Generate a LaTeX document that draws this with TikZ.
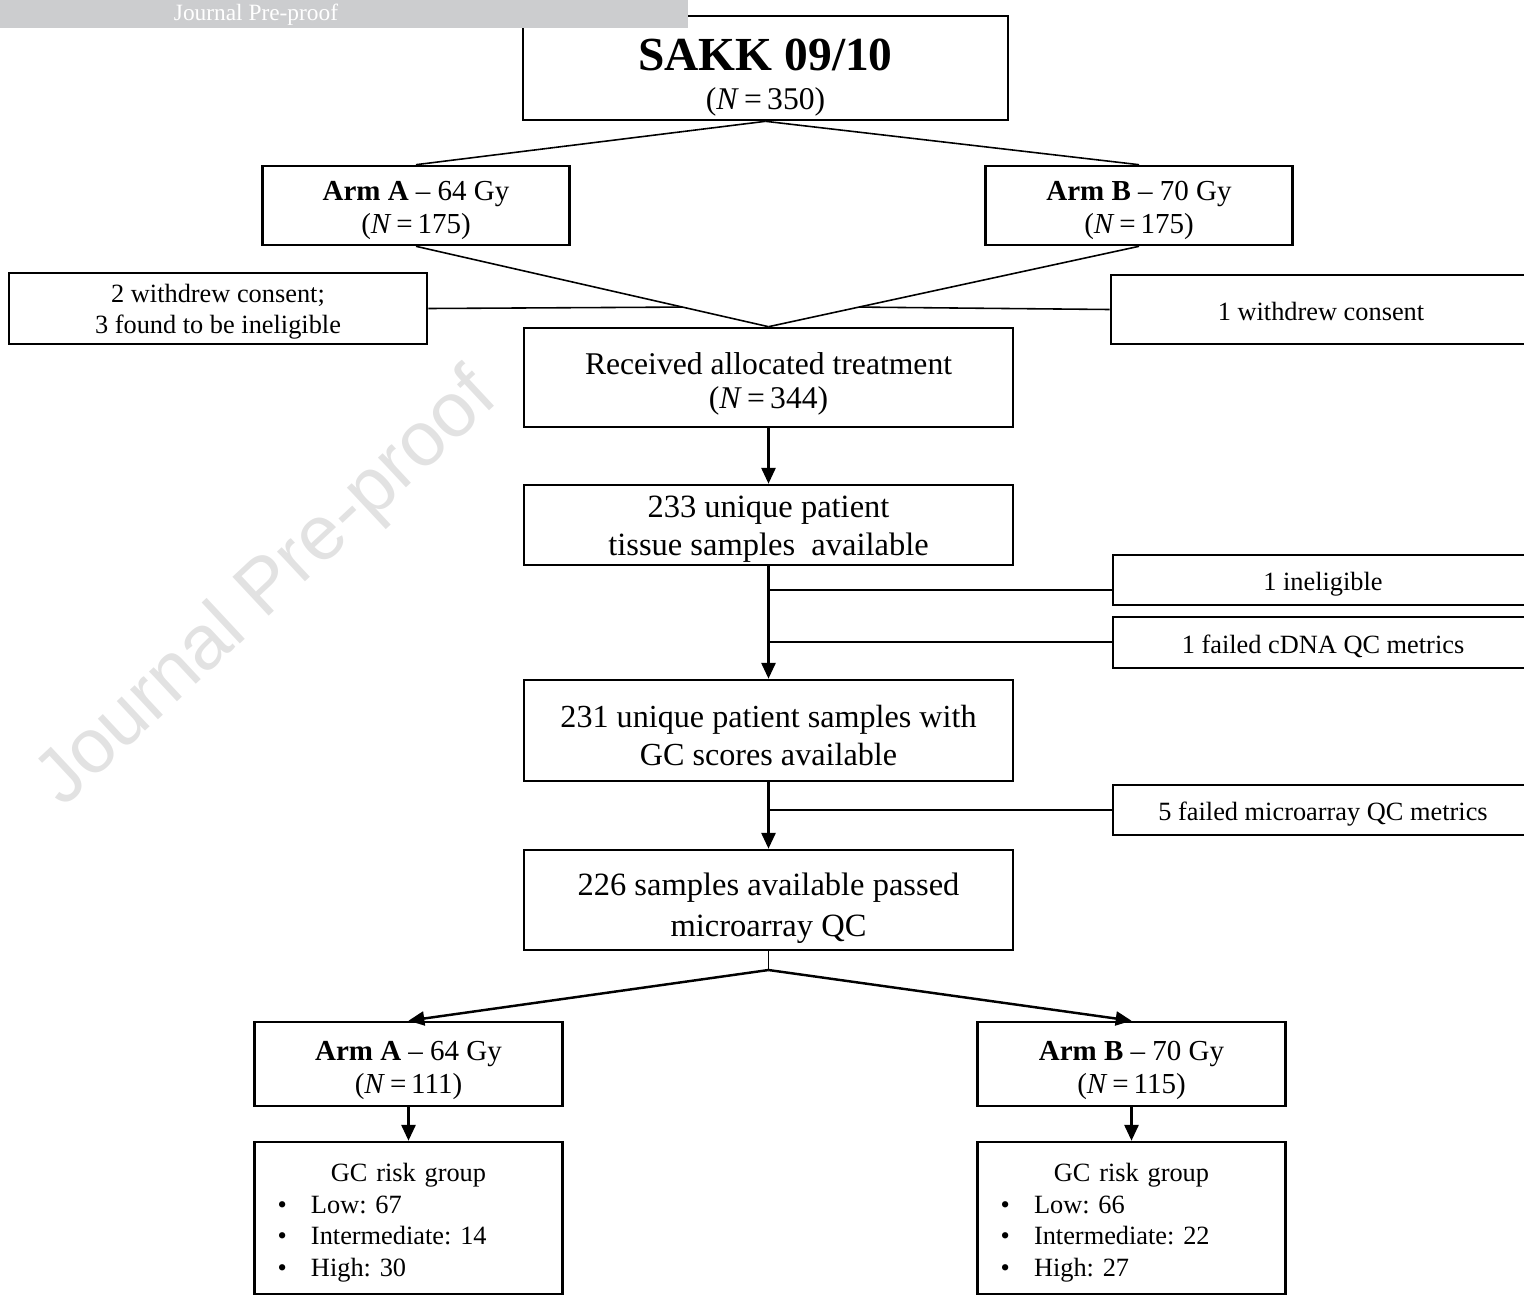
\documentclass[tikz,border=0pt]{standalone}
\usepackage{fontspec}
\setmainfont{Liberation Serif}
\newfontfamily\markfont{Liberation Sans}
\usetikzlibrary{arrows.meta,calc}
\definecolor{bannergray}{RGB}{204,205,207}
\definecolor{markgray}{RGB}{226,226,226}
\frenchspacing

\begin{document}
\begin{tikzpicture}[x=0.02cm, y=-0.02cm,
  box/.style={draw, line width=1.5pt, fill=white, align=center, inner sep=0pt},
  tb/.style 2 args={text height=#1, text depth=#2},
  big/.style={box, font=\fontsize{18}{19.3}\selectfont, minimum width=9.78cm},
  arm/.style={box, font=\fontsize{16.5}{19.3}\selectfont, minimum width=6.15cm, tb={36.9pt}{4.5pt}},
  excl/.style={box, font=\fontsize{15}{17.6}\selectfont, minimum width=8.4cm, tb={15.75pt}{3.3pt}},
  risk/.style={box, align=left, text width=6.15cm, minimum height=3.04cm, font=\fontsize{15}{18}\selectfont},
  link/.style={line width=0.9pt},
  arr/.style={line width=1.4pt, -{Triangle[length=9pt,width=8pt]}}]
  \useasboundingbox (0,0) rectangle (1524,1295);
  % watermark
  \node[markgray, font=\markfont\fontsize{44}{44}\selectfont, rotate=43] (wm) at (268,590) {Journal Pre-proof};

  \node[box, minimum width=9.7cm, minimum height=2.08cm, font=\fontsize{18}{22.7}\selectfont, tb={52.2pt}{4.5pt}] (sakk) at (765.5,68)
    {{\fontsize{27}{22.7}\selectfont\bfseries SAKK 09/10}\\(\textit{N}\,=\,350)};
  \node[arm, minimum height=1.58cm] (armA) at (416,205.5) {\textbf{Arm A} -- 64 Gy\\(\textit{N}\,=\,175)};
  \node[arm, minimum height=1.58cm] (armB) at (1139,205.5) {\textbf{Arm B} -- 70 Gy\\(\textit{N}\,=\,175)};
  \node[excl, minimum width=8.36cm, minimum height=1.42cm, tb={33.1pt}{4.5pt}] (exl) at (218,308.5) {2 withdrew consent;\\3 found to be ineligible};
  \node[excl, minimum height=1.38cm] (exr) at (1321,309.5) {1 withdrew consent};
  \node[big, minimum height=1.98cm, tb={39.7pt}{4.5pt}] (recv) at (768.5,377.5) {Received allocated treatment\\(\textit{N}\,=\,344)};
  \node[big, minimum height=1.6cm, font=\fontsize{18.5}{22.1}\selectfont, tb={39.7pt}{4.5pt}] (tissue) at (768.5,525) {233 unique patient\\tissue samples\ \ available};
  \node[excl, minimum height=1cm] (inel) at (1323,580) {1 ineligible};
  \node[excl, minimum height=1.02cm] (cdna) at (1323,642.5) {1 failed cDNA QC metrics};
  \node[big, minimum height=2.02cm, font=\fontsize{18.3}{21.5}\selectfont, tb={44.5pt}{4.5pt}] (gcs) at (768.5,730.5) {231 unique patient samples with\\GC scores available};
  \node[excl, minimum height=1cm] (micro) at (1323,810) {5 failed microarray QC metrics};
  \node[big, minimum height=2cm, font=\fontsize{18.5}{23.3}\selectfont, tb={46pt}{4.5pt}] (passed) at (768.5,900) {226 samples available passed\\microarray QC};
  \node[arm, minimum height=1.68cm, tb={38.6pt}{4.5pt}] (armAb) at (408.5,1064) {\textbf{Arm A} -- 64 Gy\\(\textit{N}\,=\,111)};
  \node[arm, minimum height=1.68cm, tb={38.6pt}{4.5pt}] (armBb) at (1131.5,1064) {\textbf{Arm B} -- 70 Gy\\(\textit{N}\,=\,115)};
  \node[risk] (riskA) at (408.5,1218)
    {\rule{0pt}{1.05em}\centering GC risk group\par\raggedright
     \hspace*{13pt}\makebox[19pt][l]{\textbullet}Low: 67\par
     \hspace*{13pt}\makebox[19pt][l]{\textbullet}Intermediate: 14\par
     \hspace*{13pt}\makebox[19pt][l]{\textbullet}High: 30};
  \node[risk] (riskB) at (1131.5,1218)
    {\rule{0pt}{1.05em}\centering GC risk group\par\raggedright
     \hspace*{13pt}\makebox[19pt][l]{\textbullet}Low: 66\par
     \hspace*{13pt}\makebox[19pt][l]{\textbullet}Intermediate: 22\par
     \hspace*{13pt}\makebox[19pt][l]{\textbullet}High: 27};

  % randomisation
  \draw[link] (sakk.south) -- (armA.north);
  \draw[link] (sakk.south) -- (armB.north);
  \draw[link] (armA.south) -- (recv.north);
  \draw[link] (armB.south) -- (recv.north);
  \coordinate (jl) at ($(armA.south)!0.756!(recv.north)$);
  \coordinate (jr) at ($(armB.south)!0.756!(recv.north)$);
  \draw[link] (exl.east) -- (jl);
  \draw[link] (exr.west) -- (jr);

  % main column
  \draw[arr] (recv) -- (tissue);
  \draw[arr] (tissue) -- (gcs);
  \draw[arr] (gcs) -- (passed);
  \coordinate (j1) at (768.5,590);
  \coordinate (j2) at (768.5,642);
  \coordinate (j3) at (768.5,810);
  \draw[link] (j1) -- (inel.west |- j1);
  \draw[link] (j2) -- (cdna.west |- j2);
  \draw[link] (j3) -- (micro.west |- j3);

  % split to arms
  \coordinate (split) at (768.5,970);
  \draw[link] (passed.south) -- (split);
  \draw[arr] (split) -- (armAb.north);
  \draw[arr] (split) -- (armBb.north);
  \draw[arr] (armAb) -- (riskA);
  \draw[arr] (armBb) -- (riskB);

  % banner
  \fill[bannergray] (0,0) rectangle (688,28);
  \node[white, font=\fontsize{13.3}{14}\selectfont] (banner) at (256,15) {Journal Pre-proof};
\end{tikzpicture}
\end{document}
